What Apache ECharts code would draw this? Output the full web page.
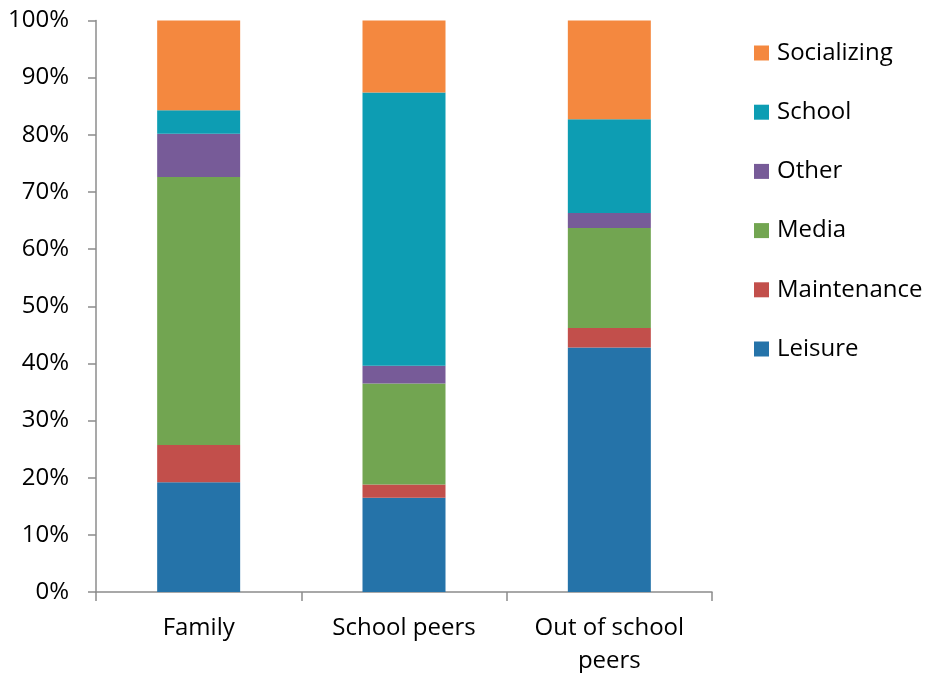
<!DOCTYPE html>
<html><head><meta charset="utf-8">
<script src="https://cdn.jsdelivr.net/npm/echarts@6/dist/echarts.min.js"></script>
<style>html,body{margin:0;padding:0;background:#fff}#c{width:932px;height:673px}</style>
</head><body><div id="c"></div>
<script>
const categories = ['Family', 'School peers', 'Out of school\npeers'];
const leisure     = [19.2, 16.5, 42.8];
const maintenance = [6.5, 2.3, 3.4];
const media       = [46.9, 17.7, 17.5];
const other       = [7.6, 3.1, 2.6];
const school      = [4.1, 47.8, 16.4];
const socializing = [15.7, 12.6, 17.3];
const yTicks = [0, 10, 20, 30, 40, 50, 60, 70, 80, 90, 100];

const font = '"Open Sans", Lato, sans-serif';
const seriesDefs = [
  ['Leisure', leisure, '#2573a9'],
  ['Maintenance', maintenance, '#c24f4b'],
  ['Media', media, '#72a551'],
  ['Other', other, '#775b98'],
  ['School', school, '#0d9db3'],
  ['Socializing', socializing, '#f4883f']
];
const chart = echarts.init(document.getElementById('c'));
chart.setOption({
  animation: false,
  textStyle: {fontFamily: font},
  grid: {left: 96, right: 220, top: 20.5, bottom: 81, containLabel: false, outerBoundsMode: 'none'},
  legend: {
    orient: 'vertical', left: 754, top: 41, padding: 0,
    data: ['Socializing', 'School', 'Other', 'Media', 'Maintenance', 'Leisure'],
    icon: 'rect', itemWidth: 15, itemHeight: 15, itemGap: 35.2,
    textStyle: {fontSize: 24, color: '#000', fontFamily: font, padding: [0, 0, 0, 3], lineHeight: 24}
  },
  xAxis: {
    type: 'category', data: categories,
    axisLine: {lineStyle: {color: '#8c8c8c', width: 1.5}},
    axisTick: {show: true, length: 9, lineStyle: {color: '#8c8c8c', width: 1.5}},
    axisLabel: {fontSize: 24, color: '#000', margin: 20, lineHeight: 33, fontFamily: font}
  },
  yAxis: {
    type: 'value', min: 0, max: 100, interval: 10,
    axisLine: {show: true, lineStyle: {color: '#8c8c8c', width: 1.5}},
    axisTick: {show: true, length: 8, lineStyle: {color: '#8c8c8c', width: 1.5}},
    splitLine: {show: false},
    axisLabel: {fontSize: 24, color: '#000', margin: 27, fontFamily: font,
      formatter: v => yTicks.includes(v) ? v + '%' : ''}
  },
  series: seriesDefs.map(([name, data, color]) => ({
    name, type: 'bar', stack: 'all', data,
    barWidth: 83, itemStyle: {color}
  }))
});
</script></body></html>
